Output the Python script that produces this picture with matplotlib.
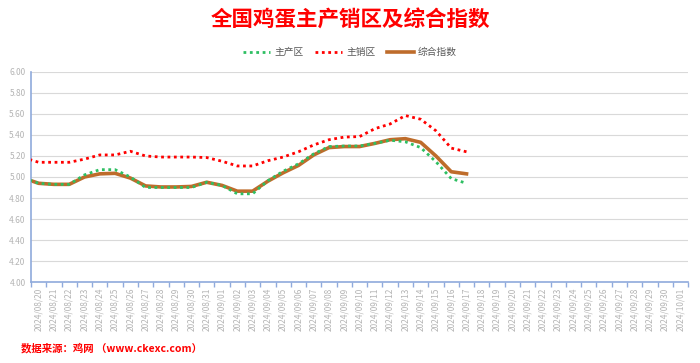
import matplotlib
matplotlib.use("Agg")
import matplotlib.pyplot as plt
import numpy as np
import pandas as pd

plt.rcParams['font.family'] = ['Noto Sans CJK SC', 'DejaVu Sans']

# x categories: 2024/08/20 .. 2024/10/01 (one leading day, 08/19, is half clipped at the axis)
dates = pd.date_range("2024-08-20", "2024-10-01", freq="D")
date_labels = [d.strftime("%Y/%m/%d") for d in dates]

# values from 2024/08/19 to 2024/09/17
producing = [4.99, 4.94, 4.93, 4.93, 5.02, 5.07, 5.07, 5.00, 4.90, 4.90, 4.90, 4.90, 4.95, 4.92, 4.84,
             4.84, 4.965, 5.055, 5.125, 5.22, 5.29, 5.295, 5.295, 5.32, 5.35, 5.335, 5.28, 5.145, 4.985, 4.94]
selling = [5.185, 5.14, 5.14, 5.14, 5.17, 5.21, 5.21, 5.245, 5.20, 5.19, 5.19, 5.19, 5.185, 5.15, 5.105,
           5.105, 5.155, 5.19, 5.24, 5.305, 5.355, 5.38, 5.385, 5.46, 5.505, 5.585, 5.55, 5.44, 5.275, 5.24]
composite = [4.99, 4.94, 4.93, 4.93, 5.00, 5.03, 5.035, 4.99, 4.915, 4.905, 4.905, 4.91, 4.95, 4.92, 4.865,
             4.865, 4.96, 5.04, 5.11, 5.21, 5.28, 5.29, 5.29, 5.32, 5.355, 5.365, 5.33, 5.20, 5.05, 5.03]

x = np.arange(len(producing)) - 1

fig = plt.figure(figsize=(7, 3.63), dpi=100)
ax = fig.add_axes([0.0443, 0.2231, 0.9387, 0.5786])

dot = (0, (1, 1.3))
ax.plot(x, producing, color="#2EBF62", lw=2, ls=dot, label="主产区", zorder=3)
ax.plot(x, selling, color="#FF0000", lw=2, ls=dot, label="主销区", zorder=3)
ax.plot(x, composite, color="#BE6C2B", lw=2.6, label="综合指数", zorder=2)

ax.set_xlim(-0.5, len(dates) - 0.5)
ax.set_ylim(4.0, 6.0)
ax.set_yticks(np.arange(4.0, 6.01, 0.2))
ax.set_yticklabels([f"{v:.2f}" for v in np.arange(4.0, 6.01, 0.2)])
ax.set_xticks(np.arange(len(dates)))
ax.set_xticklabels(date_labels, rotation=90)
ax.set_xticks(np.arange(len(dates) + 1) - 0.5, minor=True)

ax.grid(axis="y", color="#D9D9D9", lw=0.8)
ax.set_axisbelow(True)
for s in ["top", "right"]:
    ax.spines[s].set_visible(False)
for s in ["left", "bottom"]:
    ax.spines[s].set_color("#8FAADC")
    ax.spines[s].set_linewidth(1.2)

ax.tick_params(axis="x", which="major", length=0, labelsize=6, labelcolor="#B4B4B4", pad=4)
ax.tick_params(axis="x", which="minor", length=3.5, color="#8FAADC", width=1)
ax.tick_params(axis="y", length=0, labelsize=6, labelcolor="#B4B4B4", pad=4)

fig.text(0.5, 0.945, "全国鸡蛋主产销区及综合指数", ha="center", va="center",
         color="#FF0000", fontsize=15.5, fontweight="bold")
leg = fig.legend(loc="center", bbox_to_anchor=(0.5, 0.857), ncol=3, frameon=False,
                 fontsize=7, handlelength=2.8, columnspacing=1.2, handletextpad=0.4)
for t in leg.get_texts():
    t.set_color("#595959")

fig.text(0.03, 0.04, "数据来源：鸡网 （www.ckexc.com）", ha="left", va="center",
         color="#FF0000", fontsize=7.5, fontweight="bold")

fig.savefig("out.png", dpi=100)
